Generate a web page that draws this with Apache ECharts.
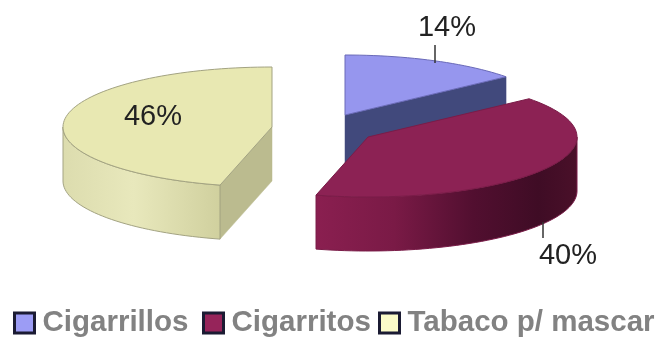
<!DOCTYPE html>
<html>
<head>
<meta charset="utf-8">
<style>html,body{margin:0;padding:0;background:#fff}#c{width:661px;height:339px}</style>
<script src="https://cdn.jsdelivr.net/npm/echarts@6/dist/echarts.min.js"></script>
</head>
<body>
<div id="c"></div>
<script>
const categories = ['Cigarrillos', 'Cigarritos', 'Tabaco p/ mascar'];
const shares = [14, 40, 46];

// layout of the exploded 3D pie (pixels)
const RX = 209, RY = 60, DEPTH = 54;
const centers = [[345, 115], [368, 137], [272, 127]];
const labelPos = [[447, 28], [568, 256], [153, 117]];
const leaders = [[[435, 45], [435, 63]], [[543, 222], [543, 238]], null];
const legendLeft = [13, 202, 378];
const drawOrder = [2, 3, 1];
const topColors = ['#9696ee', '#8c2254', '#e8e8b2'];
const legendColors = ['#9c9cf5', '#96245a', '#fbfbc8'];
const edgeColors = ['#6a6ab8', '#7a1c48', '#a3a382'];
const sideColors = ['#41497c', '#5a1236', '#bbbb8f'];
const wallStops = [
  [[0, '#41497c'], [1, '#41497c']],
  [[0, '#8a1f50'], [0.3, '#7a1a46'], [0.6, '#520f30'], [0.85, '#3f0c25'], [1, '#4a1029']],
  [[0, '#dcdcae'], [0.45, '#e8e8bc'], [1, '#d0d09e']]
];

const rad = d => d * Math.PI / 180;
const rim = (c, a, dz) => [c[0] + RX * Math.sin(rad(a)), c[1] - RY * Math.cos(rad(a)) + (dz || 0)];
function arc(c, a0, a1, dz) {
  const pts = [], n = Math.max(2, Math.ceil((a1 - a0) / 2));
  for (let i = 0; i <= n; i++) pts.push(rim(c, a0 + (a1 - a0) * i / n, dz));
  return pts;
}
const total = shares.reduce((s, v) => s + v, 0);
function startOf(idx) {
  return shares.slice(0, idx).reduce((s, v) => s + v, 0) / total * 360;
}
function sideWall(c, a, fill) {
  const r = rim(c, a);
  return { type: 'polygon',
    shape: { points: [c, r, [r[0], r[1] + DEPTH], [c[0], c[1] + DEPTH]] },
    style: { fill: fill, stroke: fill, lineWidth: 0.5 } };
}
function makeRender(idx) {
  return function (params, api) {
    const value = api.value(0);
    const a0 = startOf(idx), a1 = a0 + value / total * 360;
    const c = centers[idx];
    const children = [];
    const w0 = Math.max(a0, 90), w1 = Math.min(a1, 270);
    if (a0 > 180 && a0 < 360) children.push(sideWall(c, a0, sideColors[idx]));
    if (a1 > 0 && a1 < 180) children.push(sideWall(c, a1, sideColors[idx]));
    if (w1 > w0) {
      children.push({ type: 'polygon',
        shape: { points: arc(c, w0, w1, 0).concat(arc(c, w0, w1, DEPTH).reverse()) },
        style: {
          fill: new echarts.graphic.LinearGradient(0, 0, 1, 0,
            wallStops[idx].map(s => ({ offset: s[0], color: s[1] }))),
          stroke: edgeColors[idx], lineWidth: 1 } });
    }
    children.push({ type: 'polygon',
      shape: { points: [c].concat(arc(c, a0, a1, 0)) },
      style: { fill: topColors[idx], stroke: edgeColors[idx], lineWidth: 1 } });
    if (leaders[idx]) {
      children.push({ type: 'line',
        shape: { x1: leaders[idx][0][0], y1: leaders[idx][0][1], x2: leaders[idx][1][0], y2: leaders[idx][1][1] },
        style: { stroke: '#333333', lineWidth: 1.5 } });
    }
    children.push({ type: 'text',
      style: { text: value + '%', x: labelPos[idx][0], y: labelPos[idx][1],
        align: 'center', verticalAlign: 'middle', fill: '#222222',
        font: '29px "Liberation Sans", Arial, sans-serif' } });
    return { type: 'group', children: children };
  };
}

const chart = echarts.init(document.getElementById('c'), null, { renderer: 'canvas' });
chart.setOption({
  backgroundColor: '#ffffff',
  animation: false,
  legend: categories.map((name, i) => ({
    data: [name],
    left: legendLeft[i], top: 308,
    padding: 0,
    itemWidth: 20, itemHeight: 20,
    icon: 'rect',
    selectedMode: false,
    itemStyle: { borderColor: '#1b1b33', borderWidth: 3 },
    textStyle: { color: '#828282', fontSize: 29.5, fontWeight: 'bold',
      fontFamily: '"Liberation Sans", Arial, sans-serif', padding: [0, 0, 0, 3] }
  })),
  series: categories.map((name, i) => ({
    type: 'custom',
    name: name,
    coordinateSystem: 'none',
    z: drawOrder[i],
    silent: true,
    itemStyle: { color: legendColors[i], borderColor: '#1b1b33', borderWidth: 3 },
    renderItem: makeRender(i),
    data: [[shares[i]]]
  }))
});
</script>
</body>
</html>
